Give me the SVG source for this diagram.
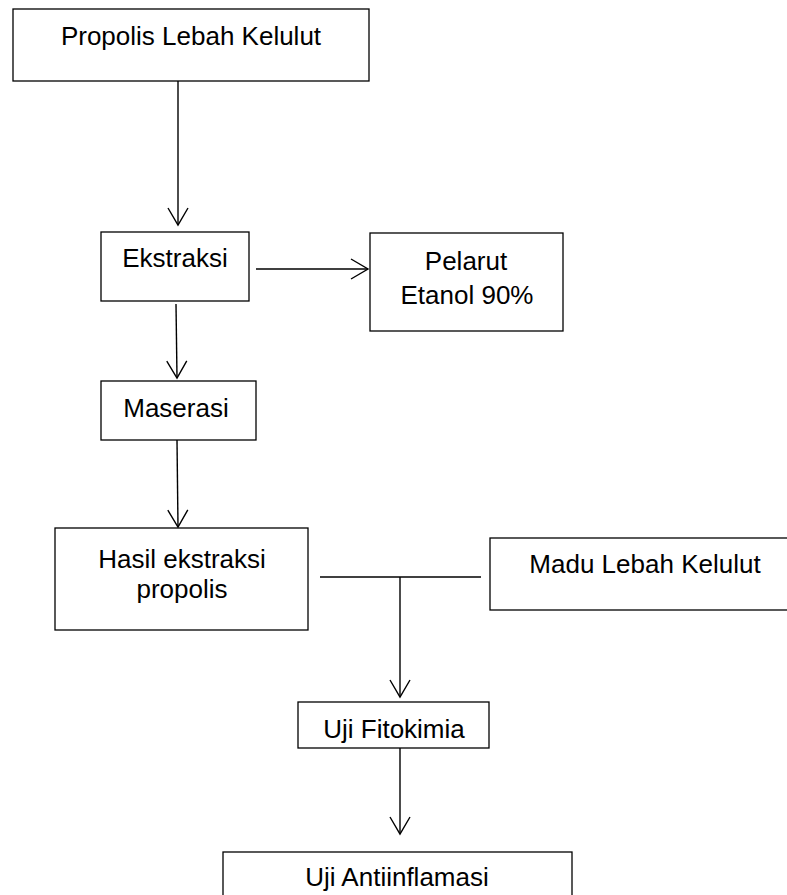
<svg xmlns="http://www.w3.org/2000/svg" width="787" height="895" viewBox="0 0 787 895">
<defs>
<style>
.box{fill:#fff;stroke:#000;stroke-width:1.3}
.t{font-family:"Liberation Sans",Arial,sans-serif;font-size:26px;fill:#000;text-anchor:middle}
.c{fill:none;stroke:#000;stroke-width:1.4}
</style>
<marker id="arr" viewBox="-19 -12 21 24" refX="0" refY="0" markerWidth="21" markerHeight="24" markerUnits="userSpaceOnUse" orient="auto">
<path d="M-17,-10 L0,0 L-17,10" fill="none" stroke="#000" stroke-width="1.4"/>
</marker>
</defs>
<rect width="787" height="895" fill="#fff"/>
<g id="connectors">
<line class="c" x1="178" y1="81" x2="178" y2="225" marker-end="url(#arr)"/>
<line class="c" x1="256" y1="269" x2="368" y2="269" marker-end="url(#arr)"/>
<line class="c" x1="176" y1="304" x2="177" y2="378" marker-end="url(#arr)"/>
<line class="c" x1="177" y1="440" x2="178" y2="527" marker-end="url(#arr)"/>
<line class="c" x1="320" y1="577" x2="481" y2="577"/>
<line class="c" x1="400" y1="577" x2="400" y2="697" marker-end="url(#arr)"/>
<line class="c" x1="400" y1="748" x2="400" y2="834" marker-end="url(#arr)"/>
</g>
<g id="propolis">
<rect class="box" x="13" y="9" width="356" height="72"/>
<text class="t" x="191" y="45">Propolis Lebah Kelulut</text>
</g>
<g id="ekstraksi">
<rect class="box" x="101" y="232" width="148" height="69"/>
<text class="t" x="175" y="267">Ekstraksi</text>
</g>
<g id="pelarut">
<rect class="box" x="370" y="233" width="193" height="98"/>
<text class="t" x="466" y="270">Pelarut</text>
<text class="t" x="467" y="304">Etanol 90%</text>
</g>
<g id="maserasi">
<rect class="box" x="101" y="381" width="155" height="59"/>
<text class="t" x="176" y="417">Maserasi</text>
</g>
<g id="hasil">
<rect class="box" x="55" y="528" width="253" height="102"/>
<text class="t" x="182" y="568">Hasil ekstraksi</text>
<text class="t" x="182" y="598">propolis</text>
</g>
<g id="madu">
<rect class="box" x="490" y="538" width="310" height="72"/>
<text class="t" x="645" y="573">Madu Lebah Kelulut</text>
</g>
<g id="fitokimia">
<rect class="box" x="298" y="702" width="191" height="46"/>
<text class="t" x="394" y="738">Uji Fitokimia</text>
</g>
<g id="antiinflamasi">
<rect class="box" x="223" y="852" width="349" height="60"/>
<text class="t" x="397" y="886">Uji Antiinflamasi</text>
</g>
</svg>
